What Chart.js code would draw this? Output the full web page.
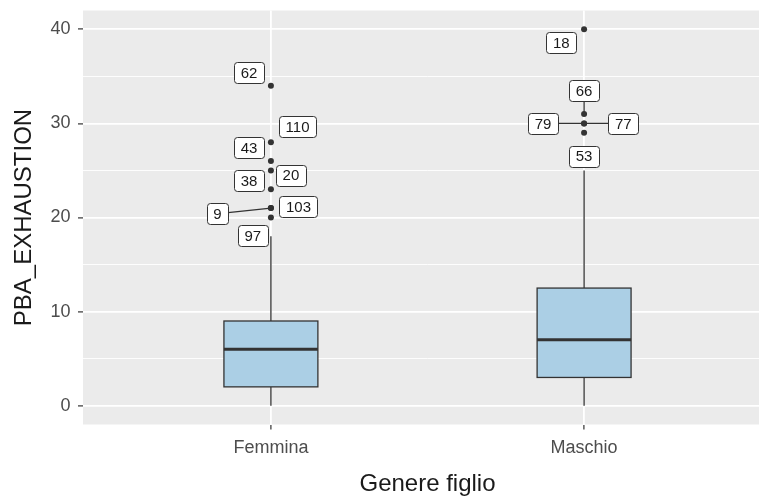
<!DOCTYPE html>
<html>
<head>
<meta charset="utf-8">
<style>
html,body{margin:0;padding:0;overflow:hidden;background:#fff;}
#wrap{width:775px;height:500px;}
</style>
<script src="https://cdn.jsdelivr.net/npm/chart.js@4/dist/chart.umd.min.js"></script>
</head>
<body>
<div id="wrap"><canvas id="c" width="775" height="500"></canvas></div>
<script>
// ---- data ----
const categories = ['Femmina', 'Maschio'];
const whiskerLow = [0, 0];
const q1 = [2, 3];
const medians = [6, 7];
const q3 = [9, 12.5];
const whiskerHigh = [18, 25];

const outlierGroup = [0, 0, 0, 0, 0, 0, 0, 0, 1, 1, 1, 1, 1];
const outlierValues = [34, 28, 26, 25, 23, 21, 21, 20, 40, 31, 30, 30, 29];
const outlierIds = [62, 110, 43, 20, 38, 9, 103, 97, 18, 66, 79, 77, 53];

const yTickValues = [0, 5, 10, 15, 20, 25, 30, 35, 40];
const xTitle = 'Genere figlio';
const yTitle = 'PBA_EXHAUSTION';

// ---- label layout (repel offsets, in axis units) ----
const labelDx = [-0.070, 0.085, -0.070, 0.064, -0.070, -0.171, 0.088, -0.058, -0.073, 0.0, -0.131, 0.125, 0.0];
const labelDy = [1.4, 1.65, 1.4, -0.5, 0.9, -0.59, 0.16, -1.95, -1.4, 2.5, 0.0, 0.0, -2.5];
const labelSegment = [false, false, false, false, false, true, false, false, false, true, true, true, false];

const BOX_WIDTH = 0.3;
const FONT = '"Liberation Sans", Arial, Helvetica, sans-serif';
Chart.defaults.font.family = FONT;

function labelBox(ctx, chart, i) {
  const {x, y} = chart.scales;
  const cx = x.getPixelForValue(outlierGroup[i] + 1 + labelDx[i]);
  const cy = y.getPixelForValue(outlierValues[i] + labelDy[i]);
  ctx.font = '15px ' + FONT;
  const tw = ctx.measureText(String(outlierIds[i])).width;
  const w = tw + 13, h = 21;
  return {cx, cy, w, h};
}

const boxPlugin = {
  id: 'ggbox',
  beforeDraw(chart) {
    const {ctx, chartArea: a} = chart;
    ctx.save();
    ctx.fillStyle = '#ebebeb';
    ctx.fillRect(a.left, a.top, a.right - a.left, a.bottom - a.top);
    ctx.restore();
  },
  beforeDatasetsDraw(chart) {
    const {ctx} = chart;
    const {x, y} = chart.scales;
    ctx.save();
    categories.forEach((c, i) => {
      const cx = x.getPixelForValue(i + 1);
      const l = x.getPixelForValue(i + 1 - BOX_WIDTH / 2);
      const r = x.getPixelForValue(i + 1 + BOX_WIDTH / 2);
      const yq1 = y.getPixelForValue(q1[i]);
      const yq3 = y.getPixelForValue(q3[i]);
      const ymed = y.getPixelForValue(medians[i]);
      const ylo = y.getPixelForValue(whiskerLow[i]);
      const yhi = y.getPixelForValue(whiskerHigh[i]);
      ctx.strokeStyle = '#333333';
      ctx.lineWidth = 1.3;
      ctx.beginPath();
      ctx.moveTo(cx, yq3); ctx.lineTo(cx, yhi);
      ctx.moveTo(cx, yq1); ctx.lineTo(cx, ylo);
      ctx.stroke();
      ctx.fillStyle = '#abcfe5';
      ctx.fillRect(l, yq3, r - l, yq1 - yq3);
      ctx.strokeRect(l, yq3, r - l, yq1 - yq3);
      ctx.lineWidth = 3;
      ctx.beginPath();
      ctx.moveTo(l, ymed); ctx.lineTo(r, ymed);
      ctx.stroke();
    });
    // repel segments
    ctx.strokeStyle = '#333333';
    ctx.lineWidth = 1.3;
    outlierValues.forEach((v, i) => {
      if (!labelSegment[i]) return;
      const px = x.getPixelForValue(outlierGroup[i] + 1);
      const py = y.getPixelForValue(v);
      const b = labelBox(ctx, chart, i);
      const dx = px - b.cx, dy = py - b.cy;
      const tx = dx !== 0 ? (b.w / 2) / Math.abs(dx) : Infinity;
      const ty = dy !== 0 ? (b.h / 2) / Math.abs(dy) : Infinity;
      const t = Math.min(tx, ty);
      const sx = b.cx + dx * t, sy = b.cy + dy * t;
      ctx.beginPath();
      ctx.moveTo(sx, sy); ctx.lineTo(px, py);
      ctx.stroke();
    });
    ctx.restore();
  },
  afterDatasetsDraw(chart) {
    const {ctx} = chart;
    ctx.save();
    outlierValues.forEach((v, i) => {
      const b = labelBox(ctx, chart, i);
      ctx.beginPath();
      ctx.roundRect(Math.round(b.cx - b.w / 2) + 0.5, Math.round(b.cy - b.h / 2) + 0.5, Math.round(b.w), Math.round(b.h), 3);
      ctx.fillStyle = '#ffffff';
      ctx.fill();
      ctx.strokeStyle = '#333333';
      ctx.lineWidth = 1;
      ctx.stroke();
      ctx.fillStyle = '#1a1a1a';
      ctx.textAlign = 'center';
      ctx.textBaseline = 'middle';
      ctx.font = '15px ' + FONT;
      ctx.fillText(String(outlierIds[i]), b.cx, b.cy + 1);
    });
    ctx.restore();
  }
};

new Chart(document.getElementById('c'), {
  type: 'scatter',
  data: {
    datasets: [{
      data: outlierValues.map((v, i) => ({x: outlierGroup[i] + 1, y: v})),
      pointRadius: 3,
      pointHoverRadius: 3,
      backgroundColor: '#333333',
      borderWidth: 0
    }]
  },
  options: {
    responsive: false,
    animation: false,
    events: [],
    layout: {padding: {left: 0, top: 10.5, right: 3, bottom: 0}},
    plugins: {legend: {display: false}, tooltip: {enabled: false}},
    scales: {
      x: {
        type: 'linear',
        min: 0.4,
        max: 2.6,
        afterBuildTicks: s => { s.ticks = categories.map((c, i) => ({value: i + 1})); },
        afterFit: s => { s.height = 75.5; s.paddingLeft = 0; s.paddingRight = 0; },
        ticks: {
          callback: v => categories[Math.round(v) - 1] || '',
          color: '#4d4d4d',
          font: {size: 18},
          padding: 8,
          maxRotation: 0,
          autoSkip: false
        },
        grid: {color: '#ffffff', lineWidth: 1.8, tickColor: '#333333', tickLength: 5, tickWidth: 1.2},
        border: {display: false},
        title: {display: true, text: xTitle, color: '#1a1a1a', font: {size: 24}, padding: {top: 0, bottom: 1.5}}
      },
      y: {
        type: 'linear',
        min: -2,
        max: 42,
        afterBuildTicks: s => { s.ticks = yTickValues.map(v => ({value: v})); },
        afterFit: s => { s.width = 83; s.paddingTop = 0; s.paddingBottom = 0; },
        ticks: {
          callback: v => (v % 10 === 0 ? String(v) : ''),
          color: '#4d4d4d',
          font: {size: 18},
          padding: 7.5,
          autoSkip: false
        },
        grid: {
          color: '#ffffff',
          lineWidth: c => (c.tick && c.tick.value % 10 === 0 ? 1.8 : 0.9),
          tickColor: c => (c.tick && c.tick.value % 10 === 0 ? '#333333' : 'rgba(0,0,0,0)'),
          tickLength: 5,
          tickWidth: 1.2
        },
        border: {display: false},
        title: {display: true, text: yTitle, color: '#1a1a1a', font: {size: 24}, padding: {top: 10, bottom: 0}}
      }
    }
  },
  plugins: [boxPlugin]
});
</script>
</body>
</html>
